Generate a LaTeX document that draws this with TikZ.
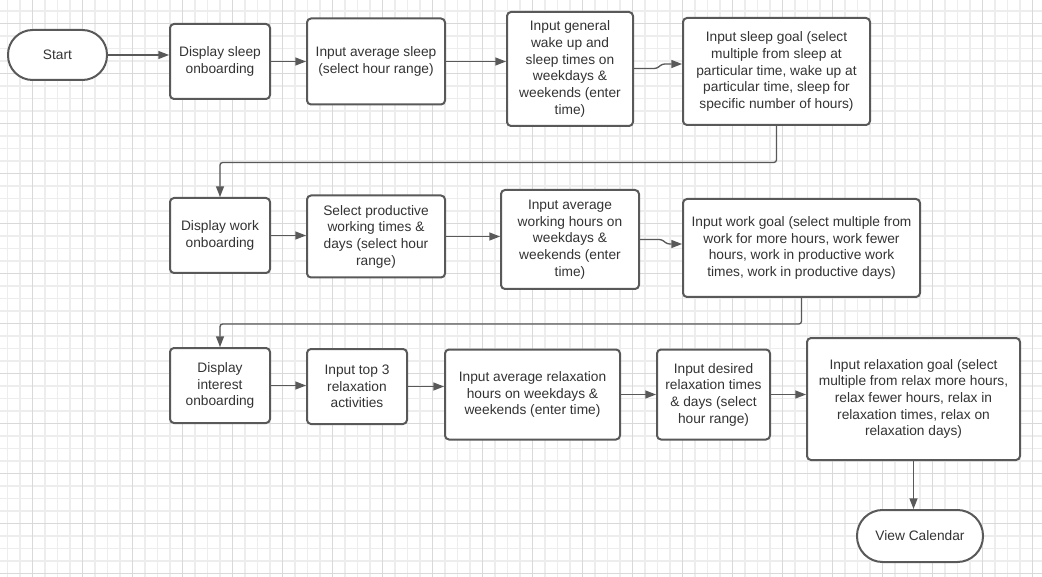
\documentclass[tikz,border=0pt]{standalone}
\usepackage{fontspec}
\setmainfont{Liberation Sans}
\usetikzlibrary{arrows.meta}
\definecolor{edgegray}{HTML}{595959}
\definecolor{txtgray}{HTML}{333333}
\definecolor{gridminor}{HTML}{EDEDED}
\definecolor{gridmajor}{HTML}{D9D9D9}
\tikzset{
  box/.style 2 args={draw=edgegray, line width=1.5pt, fill=white, rounded corners=3pt,
    minimum width=#1*0.75pt, minimum height=#2*0.75pt, inner sep=0pt, align=center,
    text=txtgray, font=\fontsize{10.3}{12.5}\selectfont},
  term/.style 2 args={box={#1}{#2}, rounded corners=#2*0.37pt},
  conn/.style={draw=edgegray, line width=1pt, rounded corners=2pt,
    -{Triangle[length=8pt,width=6pt]}},
}
\begin{document}
\begin{tikzpicture}[x=0.75pt,y=-0.75pt]
\useasboundingbox (0,0) rectangle (1042,577);
\fill[white] (0,0) rectangle (1042,577);
% grid
\foreach \i in {0,...,83} {\draw[gridminor, line width=1.1pt] ({7.7+12.5*\i},0) -- ({7.7+12.5*\i},577);}
\foreach \i in {0,...,46} {\draw[gridminor, line width=1.1pt] (0,{10.8+12.5*\i}) -- (1042,{10.8+12.5*\i});}
\foreach \i in {0,...,20} {\draw[gridmajor, line width=0.7pt] ({32.7+50*\i},0) -- ({32.7+50*\i},577);}
\foreach \i in {0,...,11} {\draw[gridmajor, line width=0.7pt] (0,{23.3+50*\i}) -- (1042,{23.3+50*\i});}

% row 1
\node[term={99}{50}] (start) at (57.5,55) {Start};
\node[box={100}{75}] (dsleep) at (220,61.5) {Display sleep\\onboarding};
\node[box={138}{86}] (avgsleep) at (376,61.5) {Input average sleep\\(select hour range)};
\node[box={126}{114}] (general) at (570,69) {Input general\\wake up and\\sleep times on\\weekdays \&\\weekends (enter\\time)};
\node[box={187}{107}] (sgoal) at (776.5,71.5) {Input sleep goal (select\\multiple from sleep at\\particular time, wake up at\\particular time, sleep for\\specific number of hours)};

% row 2
\node[box={100}{75}] (dwork) at (220,235.5) {Display work\\onboarding};
\node[box={138}{82}] (selprod) at (376,236.5) {Select productive\\working times \&\\days (select hour\\range)};
\node[box={138}{99}] (avgwork) at (570,239.5) {Input average\\working hours on\\weekdays \&\\weekends (enter\\time)};
\node[box={237}{98}] (wgoal) at (801.5,248) {Input work goal (select multiple from\\work for more hours, work fewer\\hours, work in productive work\\times, work in productive days)};

% row 3
\node[box={100}{75}] (dint) at (220,385.5) {Display\\interest\\onboarding};
\node[box={100}{75}] (top3) at (357,386.5) {Input top 3\\relaxation\\activities};
\node[box={175}{90}] (avgrelax) at (532.5,394.5) {Input average relaxation\\hours on weekdays \&\\weekends (enter time)};
\node[box={113}{90}] (desired) at (713.5,394.5) {Input desired\\relaxation times\\\& days (select\\hour range)};
\node[box={213}{122}] (rgoal) at (913.5,399) {Input relaxation goal (select\\multiple from relax more hours,\\relax fewer hours, relax in\\relaxation times, relax on\\relaxation days)};
\node[term={126}{52}] (cal) at (920,536) {View Calendar};

% connectors
\draw[conn] (start.east) -- (start.east -| dsleep.west);
\draw[conn] (dsleep.east) -- (dsleep.east -| avgsleep.west);
\draw[conn] (avgsleep.east) -- (avgsleep.east -| general.west);
\draw[conn] (general.east) ++(0,-0.5) -- ++(23,0) -- ++(5,-4.5) coordinate (j1) -- (j1 -| sgoal.west);
\draw[conn] (sgoal.south) -- ++(0,36.5) -| (dwork.north);
\draw[conn] (dwork.east) -- (dwork.east -| selprod.west);
\draw[conn] (selprod.east) -- (selprod.east -| avgwork.west);
\draw[conn] (avgwork.east) -- ++(22,0) -- ++(5,4.5) coordinate (j2) -- (j2 -| wgoal.west);
\draw[conn] (wgoal.south) -- ++(0,26) -| (dint.north);
\draw[conn] (dint.east) -- (dint.east -| top3.west);
\draw[conn] (top3.east) -- (top3.east -| avgrelax.west);
\draw[conn] (avgrelax.east) -- (avgrelax.east -| desired.west);
\draw[conn] (desired.east) -- (desired.east -| rgoal.west);
\draw[conn] (rgoal.south) -- (rgoal.south |- cal.north);
\end{tikzpicture}
\end{document}
